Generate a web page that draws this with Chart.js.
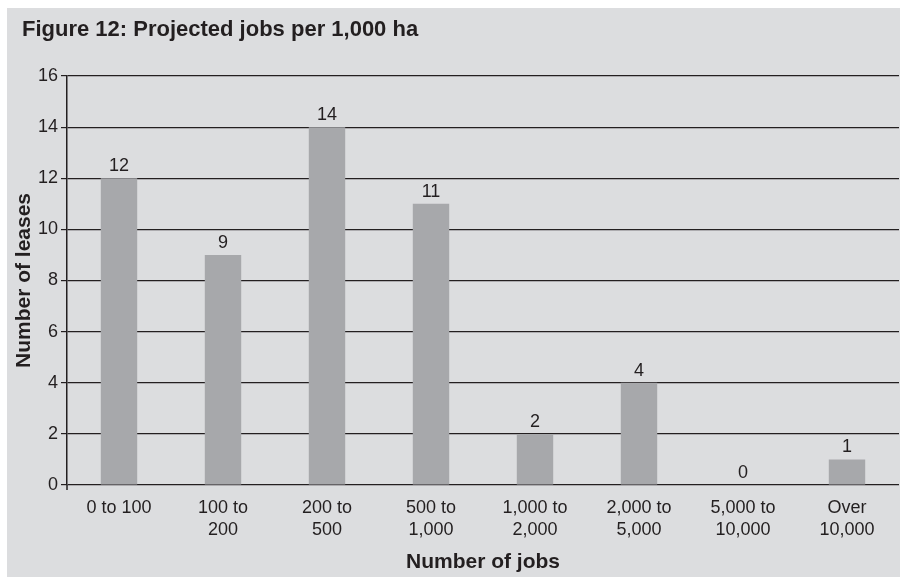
<!DOCTYPE html>
<html>
<head>
<meta charset="utf-8">
<script src="https://cdn.jsdelivr.net/npm/chart.js@4/dist/chart.umd.min.js"></script>
<style>
  html, body { margin: 0; padding: 0; background: #fff; }
  #wrap { width: 902px; height: 577px; }
</style>
</head>
<body>
<div id="wrap"><canvas id="chart" width="902" height="577"></canvas></div>
<script>
// Data
const chartTitle = 'Figure 12: Projected jobs per 1,000 ha';
const jobBands = [
  '0 to 100',
  ['100 to', '200'],
  ['200 to', '500'],
  ['500 to', '1,000'],
  ['1,000 to', '2,000'],
  ['2,000 to', '5,000'],
  ['5,000 to', '10,000'],
  ['Over', '10,000']
];
const leaseCounts = [12, 9, 14, 11, 2, 4, 0, 1];

const panelColor = '#dcdddf';
const barColor = '#a7a8ab';
const inkColor = '#231f20';
const labelFont = '"Liberation Sans", Arial, sans-serif';

// grey panel behind the whole figure
const panelPlugin = {
  id: 'panel',
  beforeDraw(chart) {
    const ctx = chart.ctx;
    ctx.save();
    ctx.fillStyle = panelColor;
    ctx.fillRect(7, 8, 893, 569);
    ctx.restore();
  }
};

// heading in the top-left corner, plus the axis stub below zero
const headingPlugin = {
  id: 'heading',
  afterDraw(chart) {
    const ctx = chart.ctx;
    const area = chart.chartArea;
    ctx.save();
    ctx.fillStyle = inkColor;
    ctx.font = 'bold 22px ' + labelFont;
    ctx.textBaseline = 'middle';
    ctx.textAlign = 'left';
    ctx.fillText(chartTitle, 22, 30);
    ctx.strokeStyle = inkColor;
    ctx.lineWidth = 1.5;
    ctx.beginPath();
    ctx.moveTo(area.left, area.bottom);
    ctx.lineTo(area.left, area.bottom + 5);
    ctx.stroke();
    ctx.restore();
  }
};

// value printed above each bar
const valueLabels = {
  id: 'valueLabels',
  afterDatasetsDraw(chart) {
    const ctx = chart.ctx;
    const meta = chart.getDatasetMeta(0);
    ctx.save();
    ctx.fillStyle = inkColor;
    ctx.font = '18px ' + labelFont;
    ctx.textAlign = 'center';
    ctx.textBaseline = 'bottom';
    meta.data.forEach((bar, i) => {
      ctx.fillText(String(leaseCounts[i]), bar.x, bar.y - 3);
    });
    ctx.restore();
  }
};

new Chart(document.getElementById('chart'), {
  type: 'bar',
  data: {
    labels: jobBands,
    datasets: [{
      data: leaseCounts,
      backgroundColor: barColor,
      borderWidth: 0,
      categoryPercentage: 1,
      barPercentage: 0.35
    }]
  },
  options: {
    responsive: false,
    animation: false,
    layout: { padding: { top: 76, right: 3, left: 0, bottom: 0 } },
    plugins: {
      legend: { display: false },
      tooltip: { enabled: false }
    },
    scales: {
      x: {
        afterFit(scale) { scale.height = 92; },
        grid: { display: false, drawTicks: false },
        border: { display: false },
        ticks: {
          color: inkColor,
          padding: 13,
          maxRotation: 0,
          autoSkip: false,
          font: { family: labelFont, size: 18, lineHeight: 1.17 }
        },
        title: {
          display: true,
          text: 'Number of jobs',
          color: inkColor,
          font: { family: labelFont, size: 21, weight: 'bold', lineHeight: 1.2 },
          padding: { top: 0, bottom: 2 }
        }
      },
      y: {
        min: 0,
        max: 16,
        afterFit(scale) { scale.width = 67; },
        ticks: {
          stepSize: 2,
          color: inkColor,
          padding: 3,
          font: { family: labelFont, size: 18 }
        },
        grid: {
          color: inkColor,
          lineWidth: 1.2,
          tickLength: 6,
          drawTicks: true
        },
        border: { color: inkColor, width: 1.5 },
        title: {
          display: true,
          text: 'Number of leases',
          color: inkColor,
          font: { family: labelFont, size: 21, weight: 'bold', lineHeight: 1.2 },
          padding: { top: 12, bottom: 0 }
        }
      }
    }
  },
  plugins: [panelPlugin, headingPlugin, valueLabels]
});
</script>
</body>
</html>
